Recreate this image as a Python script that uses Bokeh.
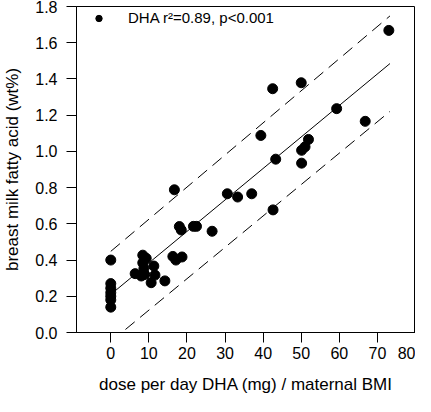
from bokeh.plotting import figure
from bokeh.models import FixedTicker, Legend, LegendItem, Range1d, ColumnDataSource, PrintfTickFormatter
from bokeh.embed import file_html
from bokeh.resources import INLINE

# ---- data ----
dose_x = [0, 0, 0, 0, 0, 0, 0,
          8.4, 9.3, 8.4, 8.7, 6.4, 8.0, 8.9, 11.3, 11.6, 10.6, 14.2,
          16.3, 17.1, 18.7,
          16.7, 18.0, 18.5, 21.7, 22.5, 26.6,
          30.6, 33.3, 37.0, 42.6,
          39.4, 43.3, 50.1, 50.1, 51.0, 51.9,
          42.5, 50.0, 59.3, 66.8, 73.0]
dha_y = [0.40, 0.27, 0.245, 0.22, 0.20, 0.18, 0.14,
         0.427, 0.41, 0.385, 0.354, 0.325, 0.312, 0.32, 0.367, 0.317, 0.275, 0.285,
         0.42, 0.40, 0.417,
         0.788, 0.585, 0.566, 0.586, 0.586, 0.559,
         0.766, 0.748, 0.766, 0.677,
         1.088, 0.957, 1.006, 0.935, 1.025, 1.066,
         1.346, 1.379, 1.236, 1.166, 1.668]

line_x = [0, 73.3]
fit_y = [0.21, 1.485]
upper_y = [0.448, 1.748]
lower_y = [-0.05, 1.221]

x_ticks = [0, 10, 20, 30, 40, 50, 60, 70, 80]
y_ticks = [0.0, 0.2, 0.4, 0.6, 0.8, 1.0, 1.2, 1.4, 1.6, 1.8]
legend_label = "DHA r\u00b2=0.89, p<0.001"
x_title = "dose per day DHA (mg) / maternal BMI"
y_title = "breast milk fatty acid (wt%)"

FONT = "Liberation Sans"

p = figure(width=415, height=396, output_backend="svg", toolbar_location=None,
           x_range=Range1d(-9, 80), y_range=Range1d(0, 1.8),
           min_border_left=60, min_border_right=0, min_border_top=6, min_border_bottom=50,
           background_fill_color="white", border_fill_color="white")

p.xgrid.visible = False
p.ygrid.visible = False
p.outline_line_color = "black"
p.outline_line_width = 1
p.outline_line_alpha = 1

for ax in (p.xaxis[0], p.yaxis[0]):
    ax.axis_line_color = "black"
    ax.axis_line_width = 1
    ax.major_tick_line_color = "black"
    ax.major_tick_out = 10
    ax.major_tick_in = 0
    ax.minor_tick_line_color = None
    ax.major_label_text_font = FONT
    ax.major_label_text_font_size = "16px"
    ax.major_label_text_color = "black"
    ax.axis_label_text_font = FONT
    ax.axis_label_text_font_size = "17px"
    ax.axis_label_text_font_style = "normal"
    ax.axis_label_text_color = "black"

p.xaxis.ticker = FixedTicker(ticks=x_ticks)
p.yaxis.ticker = FixedTicker(ticks=y_ticks)
p.yaxis.formatter = PrintfTickFormatter(format="%.1f")
p.xaxis.major_label_standoff = 4
p.yaxis.major_label_standoff = 9
p.xaxis.axis_label = x_title
p.yaxis.axis_label = y_title
p.xaxis.axis_label_standoff = 13
p.yaxis.axis_label_standoff = 10

p.line(line_x, fit_y, line_color="black", line_width=1)
p.line(line_x, upper_y, line_color="black", line_width=1, line_dash="12 7")
p.line(line_x, lower_y, line_color="black", line_width=1, line_dash="12 7")

src = ColumnDataSource(dict(x=dose_x, y=dha_y))
pts = p.scatter("x", "y", source=src, size=10, fill_color="black", line_color="black")

legend = Legend(items=[LegendItem(label=legend_label, renderers=[pts])],
                location="top_left", margin=0, padding=3,
                glyph_width=39, glyph_height=16, label_height=16, label_standoff=10,
                label_text_font=FONT, label_text_font_size="15px", label_text_color="black",
                background_fill_alpha=0, border_line_alpha=0)
p.add_layout(legend)

open("out.html", "w").write(file_html(p, INLINE))
